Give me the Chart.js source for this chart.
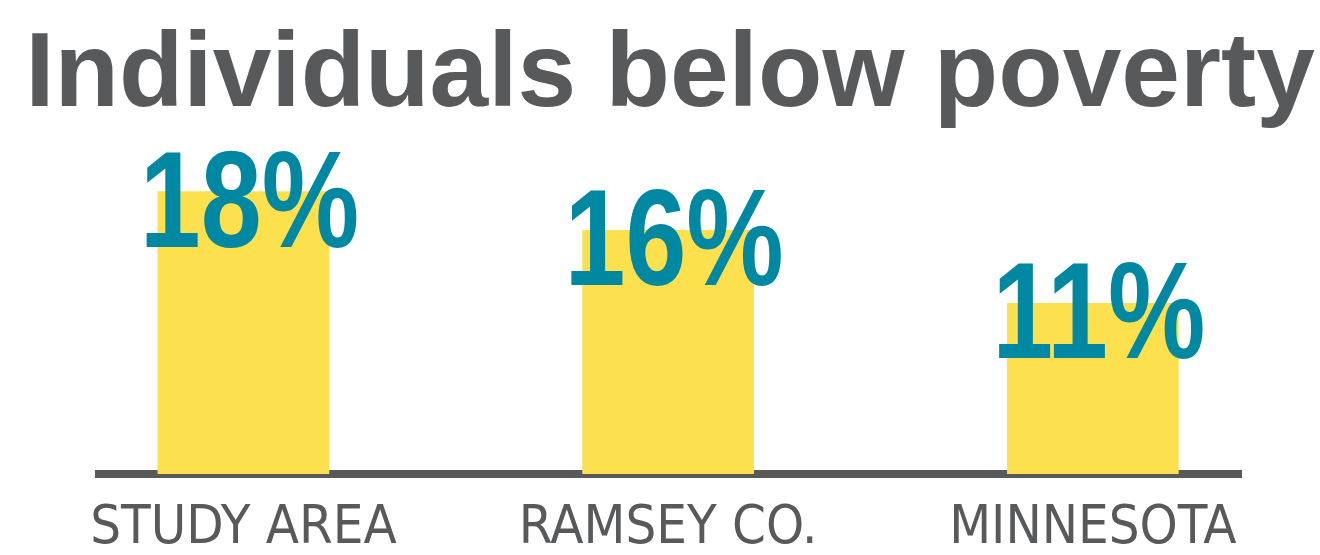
<!DOCTYPE html>
<html>
<head>
<meta charset="utf-8">
<script src="https://cdn.jsdelivr.net/npm/chart.js@4"></script>
<style>
  html, body { margin: 0; padding: 0; background: #fff; }
  #wrap { width: 1320px; height: 555px; }
</style>
</head>
<body>
<div id="wrap"><canvas id="chart"></canvas></div>
<script>
// Data
const categories = ['STUDY AREA', 'RAMSEY CO.', 'MINNESOTA']
const povertyPct = [18.2, 15.7, 11.0]
const valueLabels = ['18%', '16%', '11%']

const GRAY = '#58595B'
const YELLOW = '#FDE04E'
const TEAL = '#0088A3'

// Big percentage labels over the top of each bar (condensed by squeezing the glyphs)
const valueLabelPlugin = {
    id: 'valueLabels',
    afterDatasetsDraw(chart) {
        const ctx = chart.ctx
        const meta = chart.getDatasetMeta(0)
        ctx.save()
        ctx.fillStyle = TEAL
        ctx.font = 'bold 137px "Liberation Sans", Arial, sans-serif'
        ctx.textAlign = 'center'
        ctx.textBaseline = 'alphabetic'
        meta.data.forEach((bar, i) => {
            ctx.save()
            ctx.translate(bar.x + 6, bar.y + 55)
            ctx.scale(0.8, 1)
            ctx.fillText(valueLabels[i], 0, 0)
            ctx.restore()
        })
        ctx.restore()
    }
}

const ctx = document.getElementById('chart').getContext('2d')
new Chart(ctx, {
    type: 'bar',
    data: {
        datasets: [{
            data: povertyPct.map((v, i) => ({ x: i, y: v })),
            backgroundColor: YELLOW,
            borderWidth: 0,
            barThickness: 171
        }]
    },
    options: {
        responsive: true,
        maintainAspectRatio: false,
        animation: false,
        devicePixelRatio: 1,
        layout: { padding: { left: 20, right: 0, top: 0, bottom: 0 } },
        plugins: {
            legend: { display: false },
            tooltip: { enabled: false },
            title: {
                display: true,
                text: 'Individuals below poverty',
                color: GRAY,
                font: { family: '"Liberation Sans", Arial, sans-serif', size: 105.5, weight: 'bold', lineHeight: 1.2 },
                padding: { top: 14, bottom: 0 }
            }
        },
        scales: {
            x: {
                type: 'linear',
                offset: false,
                min: -0.34,
                max: 2.35,
                z: 1,
                grid: { display: false },
                border: { display: true, color: GRAY, width: 8 },
                ticks: {
                    stepSize: 1,
                    includeBounds: false,
                    autoSkip: false,
                    maxRotation: 0,
                    padding: 15,
                    color: GRAY,
                    font: { family: '"DejaVu Sans Condensed", "Liberation Sans", sans-serif', size: 54, lineHeight: 1.2 },
                    callback: (value) => categories[value] ?? ''
                },
                afterFit: (scale) => { scale.height = 81 }
            },
            y: {
                min: 0,
                max: 21.48,
                grid: { display: false },
                border: { display: false },
                ticks: { display: false },
                afterFit: (scale) => { scale.width = 79 }
            },
            y2: {
                position: 'right',
                min: 0,
                max: 1,
                grid: { display: false },
                border: { display: false },
                ticks: { display: false },
                afterFit: (scale) => { scale.width = 78.5 }
            }
        }
    },
    plugins: [valueLabelPlugin]
})
</script>
</body>
</html>
